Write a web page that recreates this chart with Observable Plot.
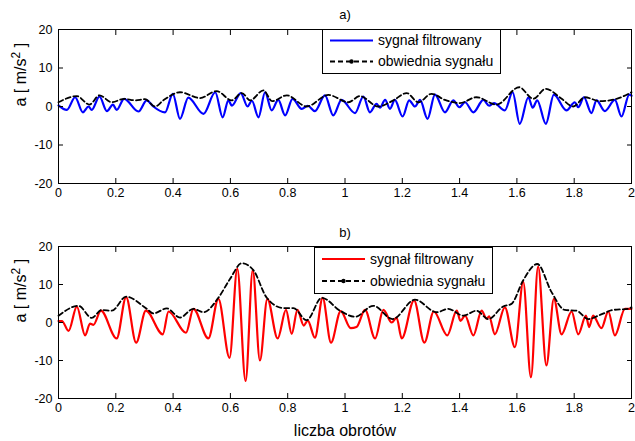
<!DOCTYPE html>
<html><head><meta charset="utf-8">
<script src="https://cdn.jsdelivr.net/npm/d3@7"></script>
<script src="https://cdn.jsdelivr.net/npm/@observablehq/plot@0.6"></script>
<style>
body{margin:0;background:#fff;}
#chart{width:635px;height:441px;background:#fff;}
#chart svg{display:block;}
</style></head><body><div id="chart"></div>
<script>
// ---- data ----
const xTicks = [0, 0.2, 0.4, 0.6, 0.8, 1, 1.2, 1.4, 1.6, 1.8, 2];
const yTicks = [-20, -10, 0, 10, 20];
const seriesNames = ["sygnał filtrowany", "obwiednia sygnału"];
const titles = ["a)", "b)"];
const xLabel = "liczba obrotów";
const yLabel = "a [ m/s² ]";

// panel a) filtered signal (blue)
const sigA_x = [0,0.029,0.058,0.085,0.105,0.116,0.143,0.169,0.19,0.203,0.229,0.279,0.308,0.331,0.372,0.399,0.424,0.453,0.506,0.547,0.573,0.593,0.605,0.636,0.66,0.675,0.698,0.721,0.744,0.767,0.791,0.817,0.849,0.87,0.895,0.93,0.959,0.988,1.035,1.064,1.087,1.11,1.122,1.14,1.157,1.174,1.201,1.224,1.244,1.262,1.288,1.314,1.349,1.378,1.399,1.419,1.448,1.483,1.503,1.52,1.558,1.585,1.61,1.64,1.655,1.671,1.701,1.729,1.773,1.802,1.814,1.834,1.86,1.878,1.907,1.942,1.965,1.992,2.0];
const sigA_y = [0.3,-0.9,2.4,-1.5,0,-0.9,2.6,-1.2,0.5,-0.9,2.0,-1.3,1.6,0,-1.5,3.3,-3.2,2.3,-1.9,3.7,-2.8,1.6,0.2,3.5,0.0,1.5,-2.8,3.7,-1.0,1.7,-2.3,2.0,-0.6,0.2,-1.2,2.9,-2.3,1.7,-1.7,2.6,-1.5,0.7,-0.3,1.7,-0.6,1.7,-2.6,1.6,0,1.7,-3.2,3.1,-1.5,1.6,-0.2,1.1,-1.5,1.7,0.2,0.9,-1.0,3.7,-4.5,2.4,-0.3,1.6,-4.5,3.1,-1.0,1.1,-0.2,2.4,-1.7,1.6,-1.2,1.7,-2.6,3.1,2.8];
// panel a) envelope
const envA_x = [0,0.064,0.108,0.143,0.186,0.229,0.267,0.302,0.337,0.366,0.424,0.494,0.552,0.605,0.64,0.669,0.715,0.746,0.797,0.866,0.942,1.012,1.052,1.116,1.169,1.215,1.256,1.302,1.349,1.401,1.459,1.529,1.608,1.657,1.701,1.756,1.797,1.837,1.89,1.948,2.0];
const envA_y = [1.1,2.7,0.5,2.9,1.1,2.0,1.6,1.9,0,1.6,3.7,2.2,4.0,1.6,3.5,1.6,4.2,1.4,2.9,0,3.0,1.1,2.7,0,1.6,3.5,1.1,3.3,1.7,0.9,2.4,0.5,5.0,2.0,4.6,2.0,0,2.4,1.4,2.0,3.7];

// panel b) filtered signal (red)
const sigB_x = [0,0.012,0.035,0.064,0.093,0.11,0.122,0.148,0.203,0.236,0.271,0.305,0.364,0.384,0.445,0.471,0.523,0.558,0.597,0.624,0.653,0.678,0.703,0.729,0.765,0.794,0.814,0.834,0.856,0.87,0.895,0.922,0.951,0.985,1.02,1.04,1.07,1.105,1.134,1.163,1.18,1.198,1.241,1.277,1.31,1.357,1.39,1.403,1.419,1.448,1.477,1.494,1.503,1.523,1.558,1.593,1.622,1.649,1.674,1.703,1.729,1.756,1.791,1.814,1.841,1.852,1.866,1.895,1.919,1.942,1.977,2.0];
const sigB_y = [0.4,0.4,-2.2,4.2,-3.4,-0.3,-0.6,3.1,-4.2,6.7,-5.3,3.1,-3.1,2.9,-2.7,3.6,-4.2,6.2,-9.3,14.2,-15.4,13.8,-10.0,6.2,-4.2,3.3,-3.0,3.3,-0.8,0.5,-4.0,6.5,-5.3,3.0,-1.5,-1.2,3.3,-4.2,3.3,0,1.3,-4.2,5.8,-5.3,2.9,-3.4,3.1,0.4,1.8,-3.4,3.1,1.0,1.6,-3.1,4.0,-6.5,10.7,-14.4,14.7,-11.3,6.2,-3.1,2.9,-3.1,1.8,-1.2,1.8,-1.5,2.9,-3.4,3.6,3.6];
// panel b) envelope
const envB_x = [0,0.07,0.116,0.151,0.186,0.236,0.308,0.331,0.378,0.424,0.471,0.506,0.558,0.599,0.64,0.68,0.727,0.785,0.82,0.866,0.919,0.983,1.035,1.099,1.166,1.244,1.32,1.36,1.413,1.459,1.5,1.552,1.581,1.622,1.671,1.721,1.767,1.808,1.849,1.89,1.936,1.988,2.0];
const envB_y = [1.8,4.4,1.2,3.3,3.1,6.8,3.6,2.4,3.7,1.3,3.6,2.7,6.5,11.5,15.6,13.8,6.5,3.8,3.8,0.6,6.5,3.1,1.5,4.4,0.9,6.0,2.7,3.6,1.8,3.1,0.9,4.2,4.9,11.1,15.4,8.0,3.3,3.1,0.9,2.0,3.3,3.6,4.0];

const FONT = "'Liberation Sans', Arial, Helvetica, sans-serif";

function panel(o) {
  const sig = o.sx.map((x, i) => ({x, y: o.sy[i]}));
  const env = o.ex.map((x, i) => ({x, y: o.ey[i]}));
  const marks = [
    Plot.line(sig, {x: "x", y: "y", stroke: o.color, strokeWidth: 2.2, curve: "monotone-x"}),
    Plot.line(env, {x: "x", y: "y", stroke: "black", strokeWidth: 1.8, strokeDasharray: "5,3", curve: "monotone-x"}),
    Plot.frame({stroke: "black", strokeWidth: 1}),
    Plot.axisX({anchor: "bottom", ticks: xTicks, tickSize: -5, tickPadding: 10, tickFormat: d => String(+d.toFixed(1)), label: null}),
    Plot.axisX({anchor: "top", ticks: xTicks, tickSize: -5, tickFormat: () => "", label: null}),
    Plot.axisY({anchor: "left", ticks: yTicks, tickSize: -5, tickPadding: 11, tickFormat: d => String(d), label: null}),
    Plot.axisY({anchor: "right", ticks: yTicks, tickSize: -5, tickFormat: () => "", label: null}),
    Plot.text([o.title], {text: d => d, frameAnchor: "top", lineAnchor: "middle", dy: o.titleDy, fontSize: 13}),
    Plot.text([yLabel], {text: d => d, frameAnchor: "left", lineAnchor: "middle", rotate: -90, dx: -38, fontSize: 16})
  ];
  if (o.xlabel) marks.push(Plot.text([o.xlabel], {text: d => d, frameAnchor: "bottom", lineAnchor: "middle", dy: 32, fontSize: 16}));
  const svg = Plot.plot({
    width: 635, height: o.height,
    marginTop: o.mt, marginBottom: o.mb, marginLeft: 58, marginRight: 4,
    x: {domain: [0, 2]},
    y: {domain: [-20, 20]},
    style: {fontFamily: FONT, fontSize: "12.5px", color: "black", background: "white", overflow: "visible"},
    marks
  });
  // superscript in y label
  svg.querySelectorAll("text").forEach(t => {
    if (t.textContent === yLabel) {
      t.textContent = "";
      const ns = "http://www.w3.org/2000/svg";
      const a = document.createElementNS(ns, "tspan"); a.textContent = "a [ m/s";
      const b = document.createElementNS(ns, "tspan"); b.textContent = "2"; b.setAttribute("dy", "-6"); b.setAttribute("font-size", "12");
      const c = document.createElementNS(ns, "tspan"); c.textContent = " ]"; c.setAttribute("dy", "6");
      t.append(a, b, c);
    }
  });
  // legend
  const L = o.legend;
  const g = d3.select(svg).append("g").attr("font-family", FONT).attr("font-size", 14).attr("text-anchor", "start");
  g.append("rect").attr("x", L.x0 + 0.5).attr("y", L.y0 + 0.5).attr("width", L.x1 - L.x0).attr("height", L.y1 - L.y0)
    .attr("fill", "white").attr("stroke", "black").attr("stroke-width", 1);
  g.append("line").attr("x1", L.lx0).attr("x2", L.lx1).attr("y1", L.r1).attr("y2", L.r1).attr("stroke", o.color).attr("stroke-width", 2.2);
  g.append("line").attr("x1", L.lx0).attr("x2", L.lx1).attr("y1", L.r2).attr("y2", L.r2).attr("stroke", "black").attr("stroke-width", 1.8).attr("stroke-dasharray", "5,3");
  g.append("circle").attr("cx", (L.lx0 + L.lx1) / 2).attr("cy", L.r2).attr("r", 2.2).attr("fill", "black");
  g.append("text").attr("x", L.tx).attr("y", L.r1).attr("dy", "0.35em").attr("text-anchor", "start").text(seriesNames[0]);
  g.append("text").attr("x", L.tx).attr("y", L.r2).attr("dy", "0.35em").attr("text-anchor", "start").text(seriesNames[1]);
  return svg;
}

const root = document.getElementById("chart");
root.append(panel({
  sx: sigA_x, sy: sigA_y, ex: envA_x, ey: envA_y, color: "#0000ff", title: titles[0], titleDy: -15,
  height: 220, mt: 29, mb: 37,
  legend: {x0: 322, x1: 500, y0: 29, y1: 73, lx0: 330, lx1: 373, tx: 378, r1: 40.5, r2: 61.5}
}));
root.append(panel({
  sx: sigB_x, sy: sigB_y, ex: envB_x, ey: envB_y, color: "#ff0000", title: titles[1], titleDy: -14,
  height: 221, mt: 26, mb: 43, xlabel: xLabel,
  legend: {x0: 314, x1: 492, y0: 27, y1: 73, lx0: 322, lx1: 365, tx: 370, r1: 39, r2: 61}
}));
</script></body></html>
